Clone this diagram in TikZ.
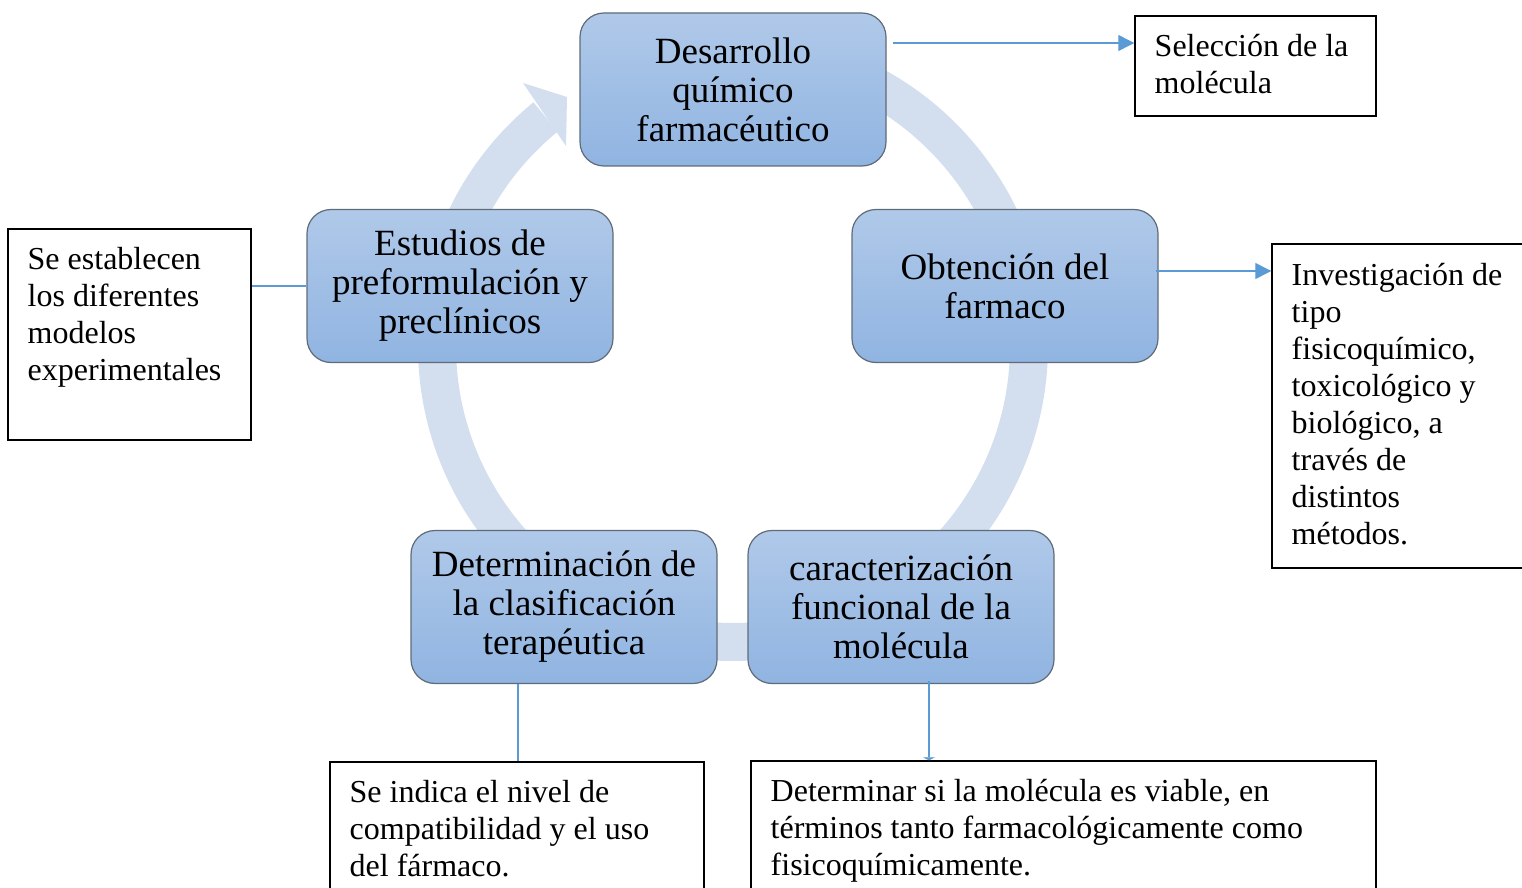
\documentclass[tikz,border=0pt]{standalone}
\usepackage{fontspec}
\setmainfont{Liberation Serif}
\usetikzlibrary{arrows.meta, positioning, calc}
\definecolor{cRing}{HTML}{D3DEEF}
\definecolor{cBoxTop}{HTML}{B0C9E9}
\definecolor{cBoxBot}{HTML}{90B4E1}
\definecolor{cBoxLine}{HTML}{5F6B78}
\definecolor{cLink}{HTML}{5B9BD5}
\tikzset{
  stepbox/.style={
    draw=cBoxLine, top color=cBoxTop, bottom color=cBoxBot,
    rounded corners=12pt, line width=0.6pt,
    minimum width=153pt, minimum height=76.5pt, inner sep=2pt,
    align=center, font=\fontsize{18.5}{19.5}\selectfont,
  },
  notebox/.style={draw=black, fill=white, line width=0.7pt, inner sep=0pt},
  notetext/.style={
    anchor=north west, align=left, inner sep=0pt,
    font=\fontsize{16}{18.5}\selectfont,
  },
  link/.style={draw=cLink, line width=0.6pt, -{Triangle[length=8pt, width=8pt]}},
  barlink/.style={draw=cLink, line width=0.6pt, -{Triangle[length=1.5pt, width=6pt]}},
  plainlink/.style={draw=cLink, line width=0.6pt},
  ringarc/.style={draw=cRing, line width=19pt},
}

\begin{document}
\begin{tikzpicture}[x=0.5pt, y=-0.5pt]

  \clip (0,0) rectangle (1522,888);

  % Cycle ring behind the steps
  \coordinate (ctr) at (733,346);
  \draw[ringarc] ([shift={(129.3:148pt)}]ctr)
    arc[start angle=129.3, end angle=440, radius=148pt];
  \fill[cRing] (523,83) -- (567,97) -- (566,146) -- cycle;

  % Steps of the cycle
  \node[stepbox] (desa) at (733,89.5) {Desarrollo\\químico\\farmacéutico};
  \node[stepbox] (obt) at (1005,286) {Obtención del\\farmaco};
  \node[stepbox] (car) at (901,607) {caracterización\\funcional de la\\molécula};
  \node[stepbox] (det) at (564,607) {Determinación de\\la clasificación\\terapéutica};
  \node[stepbox] (estu) at (460,286) {Estudios de\\preformulación y\\preclínicos};

  % Notes
  \node[notebox, minimum width=120.5pt, minimum height=50pt] (sel) at (1255.5,66) {};
  \node[notetext] (seltxt) at ([shift={(10pt,-9.5pt)}]sel.north west)
    {Selección de la\\molécula};

  \node[notebox, minimum width=130pt, minimum height=162pt] (inv) at (1402,406) {};
  \node[notetext] (invtxt) at ([shift={(10pt,-10pt)}]inv.north west)
    {Investigación de\\tipo\\fisicoquímico,\\toxicológico y\\biológico, a\\través de\\distintos\\métodos.};

  \node[notebox, minimum width=121.5pt, minimum height=105.5pt] (mod) at (129.5,334.5) {};
  \node[notetext] (modtxt) at ([shift={(10pt,-9.5pt)}]mod.north west)
    {Se establecen\\los diferentes\\modelos\\experimentales};

  \node[notebox, minimum width=187pt, minimum height=69pt] (ind) at (517,831) {};
  \node[notetext] (indtxt) at ([shift={(10pt,-9.5pt)}]ind.north west)
    {Se indica el nivel de\\compatibilidad y el uso\\del fármaco.};

  \node[notebox, minimum width=312.5pt, minimum height=69.5pt] (via) at (1063.5,830.5) {};
  \node[notetext] (viatxt) at ([shift={(10pt,-9.5pt)}]via.north west)
    {Determinar si la molécula es viable, en\\términos tanto farmacológicamente como\\fisicoquímicamente.};

  % Links from the steps to the notes
  \draw[link] ([xshift=3pt, yshift=23.25pt]desa.east)
    -- ([yshift=23.25pt]desa.east -| sel.west);
  \draw[link] ([xshift=-1.5pt, yshift=7.5pt]obt.east)
    -- ([yshift=7.5pt]obt.east -| inv.west);
  \draw[plainlink] (mod.east |- estu.west) -- (estu.west);
  \draw[plainlink] ([xshift=-23pt]det.south) -- ([xshift=-23pt]det.south |- ind.north);
  \draw[barlink] ([xshift=14pt, yshift=1.5pt]car.south)
    -- ([xshift=14pt]car.south |- via.north);

\end{tikzpicture}
\end{document}
